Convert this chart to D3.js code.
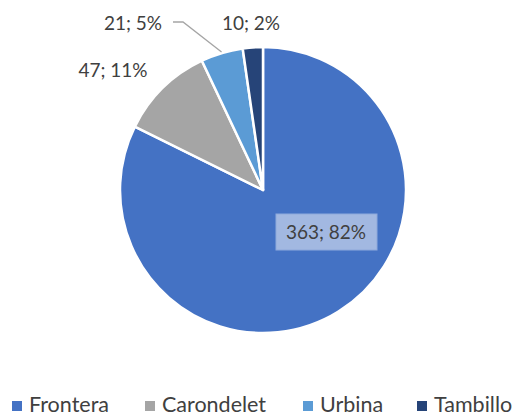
<!DOCTYPE html>
<html><head><meta charset="utf-8">
<script src="https://cdn.jsdelivr.net/npm/d3@7"></script>
<style>body{margin:0;background:#fff;} svg{display:block;font-family:Lato, "Open Sans", sans-serif;}</style>
</head><body>
<script>
const categories = ["Frontera", "Carondelet", "Urbina", "Tambillo"];
const values = [363, 47, 21, 10];
const percents = ["82%", "11%", "5%", "2%"];
const colors = ["#4472C4", "#A5A5A5", "#5B9BD5", "#264478"];

const W = 526, H = 417;
const cx = 263, cy = 190, R = 143;
const svg = d3.select("body").append("svg").attr("width", W).attr("height", H);

const pie = d3.pie().sort(null).value(d => d)(values);
const arc = d3.arc().innerRadius(0).outerRadius(R);
const g = svg.append("g").attr("transform", `translate(${cx},${cy})`);
g.selectAll("path").data(pie).join("path")
  .attr("d", arc).attr("fill", (d, i) => colors[i])
  .attr("stroke", "#fff").attr("stroke-width", 2.5).attr("stroke-linejoin", "round");

const labelText = i => `${values[i]}; ${percents[i]}`;
// label placement (layout offsets relative to the centre)
const labelPos = [
  {x: 63, y: 42, box: true},
  {x: -150, y: -120},
  {x: -130, y: -167},
  {x: -12, y: -167}
];
labelPos.forEach((p, i) => {
  const lg = g.append("g").attr("transform", `translate(${p.x},${p.y})`);
  if (p.box) {
    lg.append("rect").attr("x", -50).attr("y", -18).attr("width", 101).attr("height", 36)
      .attr("fill", "#A2B8E1").attr("stroke", "#8EA9DB").attr("stroke-width", 1);
  }
  lg.append("text").attr("text-anchor", "middle").attr("dy", "0.35em")
    .attr("font-size", 19).attr("fill", "#404040").text(labelText(i));
});
// leader line for Urbina
const a2 = (pie[2].startAngle + pie[2].endAngle) / 2;
const ex = Math.sin(a2) * (R + 1), ey = -Math.cos(a2) * (R + 1);
g.append("polyline")
  .attr("points", `${-90},${-168} ${-80},${-168} ${ex},${ey}`)
  .attr("fill", "none").attr("stroke", "#A5A5A5").attr("stroke-width", 1.3);

// legend
const legendX = [12, 145, 303, 417];
const lgd = svg.append("g");
categories.forEach((c, i) => {
  lgd.append("rect").attr("x", legendX[i]).attr("y", 401).attr("width", 10).attr("height", 10).attr("fill", colors[i]);
  lgd.append("text").attr("x", legendX[i] + 17).attr("y", 412).attr("font-size", 21.5)
    .attr("fill", "#404040").text(c);
});
</script>
</body></html>
